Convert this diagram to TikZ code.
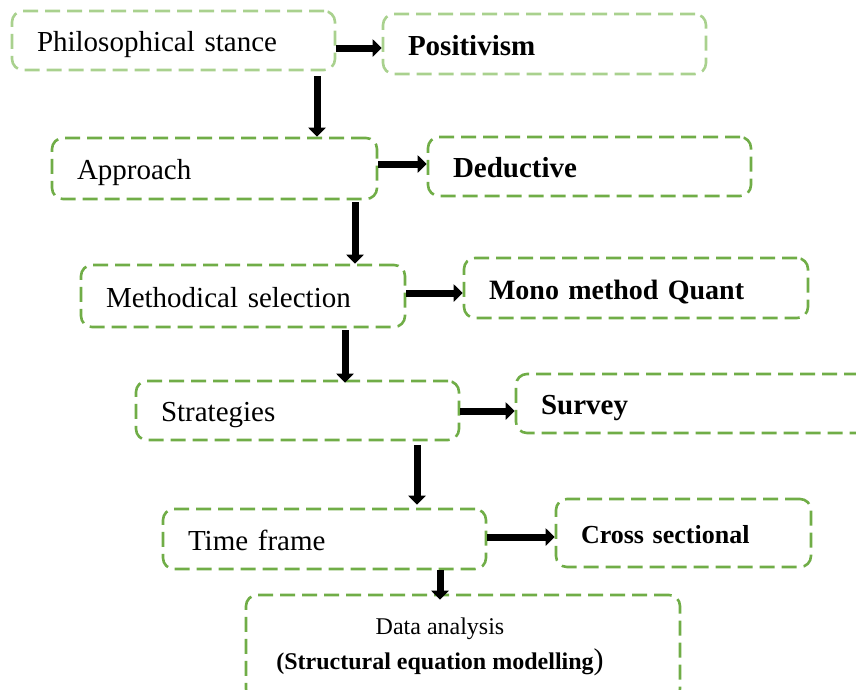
\documentclass[tikz,border=0pt]{standalone}
\usepackage{fontspec}
\setmainfont{Liberation Serif}
\usetikzlibrary{arrows.meta}
\definecolor{boxgreen}{HTML}{70AD47}
\definecolor{palegreen}{HTML}{A9D18E}
\begin{document}
\begin{tikzpicture}[x=1pt,y=-1pt,
  box/.style={draw=boxgreen, line width=2.6pt, dash pattern=on 15pt off 7pt,
    rounded corners=11pt, inner xsep=25pt, inner ysep=0pt, align=left,
    text height=22pt, text depth=0pt,
    font=\fontsize{29}{34}\selectfont},
  pale/.style={box, draw=palegreen},
  arr/.style={line width=7pt, -{Triangle[length=9pt,width=17pt]}},
]
\useasboundingbox (0,0) rectangle (856,689);
\clip (0,0) rectangle (856,689);

% left column: steps of the research design
\node[pale, text width=273pt, minimum height=59pt] (phil) at (173.5,40.5) {Philosophical stance};
\node[box, text width=275pt, minimum height=61pt] (appr) at (214.5,168.5) {Approach};
\node[box, text width=274pt, minimum height=62pt] (meth) at (243,296) {Methodical selection};
\node[box, text width=273pt, minimum height=59pt] (stra) at (297.5,410.5) {Strategies};
\node[box, text width=273pt, minimum height=60pt] (time) at (324.5,539) {Time frame};

% right column: choices made at each step
\node[pale, text width=273pt, minimum height=60pt] (posi) at (544.5,44) {\textbf{Positivism}};
\node[box, text width=273pt, minimum height=59pt] (dedu) at (589.5,166.5) {\textbf{Deductive}};
\node[box, text width=294pt, minimum height=60pt, font=\fontsize{28}{34}\selectfont] (mono) at (636,288) {\textbf{Mono method Quant}};
\node[box, text width=304pt, minimum height=59pt] (surv) at (693,403.5) {\textbf{Survey}};
\node[box, text width=205pt, minimum height=68pt, text height=20pt, font=\fontsize{26}{32}\selectfont] (cros) at (683.5,533) {\textbf{Cross sectional}};

% final step
\node[box, minimum width=434pt, minimum height=105pt, text height=0pt] (data) at (463,647.5) {};
\node[align=center, inner sep=0pt, font=\fontsize{24}{35}\selectfont] (datatxt) at (440,647)
  {Data analysis\\
   \textbf{(Structural equation modelling}{\fontsize{30}{35}\selectfont)}};

% horizontal links
\draw[arr] (phil.east |- 0,48) -- (posi.west |- 0,48);
\draw[arr] (appr.east |- 0,164) -- (dedu.west |- 0,164);
\draw[arr] (meth.east |- 0,293) -- (mono.west |- 0,293);
\draw[arr] (stra.east |- 0,411) -- (surv.west |- 0,411);
\draw[arr] (time.east |- 0,537) -- (cros.west |- 0,537);

% vertical links
\draw[arr, shorten <=5pt] (phil.south -| 317,0) -- (appr.north -| 317,0);
\draw[arr, shorten <=2pt] (appr.south -| 355,0) -- (meth.north -| 355,0);
\draw[arr, shorten <=2pt, shorten >=-3pt] (meth.south -| 345,0) -- (stra.north -| 345,0);
\draw[arr, shorten <=4pt, shorten >=3pt] (stra.south -| 417,0) -- (time.north -| 417,0);
\draw[arr, shorten >=-6pt] (time.south -| 440,0) -- (data.north -| 440,0);
\end{tikzpicture}
\end{document}
